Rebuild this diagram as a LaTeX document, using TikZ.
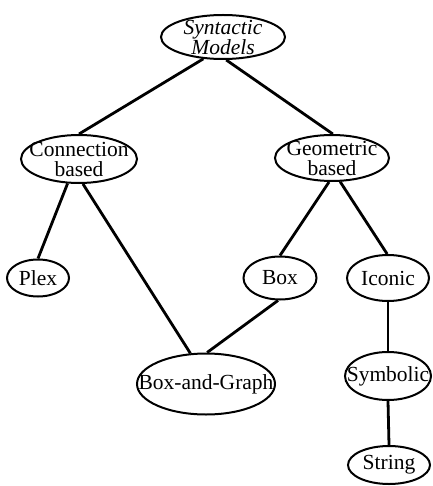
\documentclass[tikz,border=0pt]{standalone}
\usepackage{fontspec}
\setmainfont{Liberation Serif}
\usetikzlibrary{shapes.geometric}

\begin{document}
\begin{tikzpicture}[x=1pt, y=-1pt,
    model/.style={draw, ellipse, line width=2pt, inner sep=0pt},
    txt/.style={align=center, inner sep=0pt, font=\fontsize{21.5}{20}\selectfont},
    link/.style={line width=2.8pt}]
    \useasboundingbox (0,0) rectangle (432,486);
    % Ellissi
    \node[model, minimum width=124pt, minimum height=44pt] (syn) at (223,37) {};
    \node[model, minimum width=116pt, minimum height=48pt] (conn) at (79,159) {};
    \node[model, minimum width=114pt, minimum height=46pt] (geo) at (332,158) {};
    \node[model, minimum width=62pt, minimum height=37pt] (plex) at (38,278) {};
    \node[model, minimum width=73pt, minimum height=43pt] (box) at (280,278) {};
    \node[model, minimum width=82pt, minimum height=46pt] (icon) at (388,278) {};
    \node[model, minimum width=138pt, minimum height=61pt] (bag) at (206,384) {};
    \node[model, minimum width=86pt, minimum height=48pt] (sym) at (388,376) {};
    \node[model, minimum width=82pt, minimum height=38pt] (str) at (389,465) {};
    % Testi
    \node[txt, font=\fontsize{21.5}{20}\selectfont\itshape] (synT) at (syn) {Syntactic\\Models};
    \node[txt] (connT) at (conn) {Connection\\based};
    \node[txt] (geoT) at (geo) {Geometric\\based};
    \node[txt] (plexT) at (plex) {Plex};
    \node[txt] (boxT) at (box) {Box};
    \node[txt] (iconT) at (icon) {Iconic};
    \node[txt] (bagT) at (bag) {Box-and-Graph};
    \node[txt] (symT) at (sym) {Symbolic};
    \node[txt] (strT) at (str) {String};
    % Collegamenti
    \draw[link] (syn.228) -- (conn.90);
    \draw[link] (syn.278) -- (geo.88);
    \draw[link] (conn.245) -- (plex.90);
    \draw[link] (conn.279) -- (bag.117);
    \draw[link] (geo.263) -- (box.90);
    \draw[link] (geo.289) -- (icon.92);
    \draw[link] (box.265) -- (bag.88);
    \draw[link] (icon.south) -- (sym.north);
    \draw[link] (sym.south) -- (str.north);
\end{tikzpicture}
\end{document}
